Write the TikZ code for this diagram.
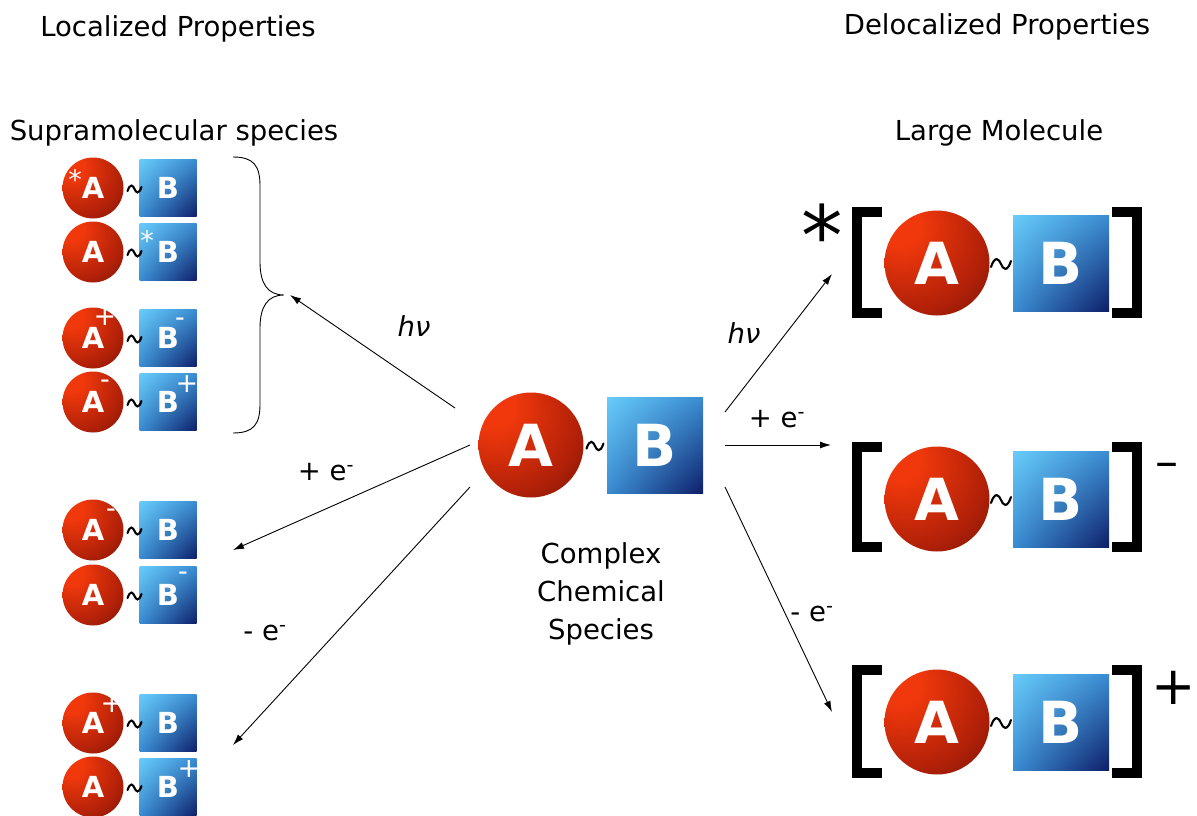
\documentclass[tikz,border=0pt]{standalone}
\usepackage{fontspec}
\setmainfont{DejaVu Sans}
\usetikzlibrary{arrows.meta,shadings}
\definecolor{ballhi}{RGB}{240,56,12}
\definecolor{ballmid}{RGB}{176,32,8}
\definecolor{balldark}{RGB}{84,14,4}
\definecolor{boxhi}{RGB}{104,204,250}
\definecolor{boxmid}{RGB}{58,140,210}
\definecolor{boxdark}{RGB}{14,30,105}
\pgfdeclareradialshading{redball}{\pgfpoint{-20bp}{20bp}}{color(0bp)=(ballhi); color(10bp)=(ballhi); color(36bp)=(ballmid); color(60bp)=(balldark); color(100bp)=(balldark)}
\tikzset{
  lbl/.style={inner sep=0, font=\fontsize{27.5}{33}\selectfont},
  ballS/.style={circle, inner sep=0, minimum size=61pt, shade, shading=redball, text=white, font=\bfseries\fontsize{29}{29}\selectfont},
  boxS/.style={rectangle, inner sep=0, minimum size=57pt, shade, upper left=boxhi, upper right=boxmid, lower left=boxmid, lower right=boxdark, text=white, font=\bfseries\fontsize{29}{29}\selectfont},
  ballL/.style={circle, inner sep=0, minimum size=105pt, shade, shading=redball, text=white, font=\bfseries\fontsize{58}{58}\selectfont},
  boxL/.style={rectangle, inner sep=0, minimum size=96pt, shade, upper left=boxhi, upper right=boxmid, lower left=boxmid, lower right=boxdark, text=white, font=\bfseries\fontsize{58}{58}\selectfont},
  wsign/.style={inner sep=0, text=white, font=\fontsize{27}{27}\selectfont},
  bsign/.style={inner sep=0, text=black},
  tildepath/.style={line width=2.1pt, line cap=round},
  bracket/.style={line width=10pt, miter limit=10},
  conn/.style={-{Latex[length=11pt,width=7pt]}, line width=0.9pt},
}
\newcommand\molS[2]{%
  \node[ballS] (#1a) at (93,#2) {A};
  \node[boxS] (#1b) at (168,#2) {B};
  \draw[tildepath, shift={(134.5,#2+1)}, scale=7] (-1,0.3) .. controls (-0.6,-0.9) and (-0.2,-0.5) .. (0,0) .. controls (0.2,0.5) and (0.6,0.9) .. (1,-0.3);
}
\newcommand\molL[4]{%
  \node[ballL] (#1a) at (#2,#3) {A};
  \node[boxL] (#1b) at (#2+124,#3) {B};
  \draw[tildepath, shift={(#2+64,#3+1)}, scale=#4] (-1,0.3) .. controls (-0.6,-0.9) and (-0.2,-0.5) .. (0,0) .. controls (0.2,0.5) and (0.6,0.9) .. (1,-0.3);
}
\newcommand\brk[2]{%
  \draw[bracket] (882,#1) -- (857,#1) -- (857,#2) -- (882,#2);
  \draw[bracket] (1112,#1) -- (1137,#1) -- (1137,#2) -- (1112,#2);
}
\begin{document}
\begin{tikzpicture}[x=1pt,y=-1pt]
\useasboundingbox[fill=white] (0,0) rectangle (1197,816);

% headers
\node[lbl, anchor=base] (hloc) at (178,37) {Localized Properties};
\node[lbl, anchor=base] (hdeloc) at (997,35) {Delocalized Properties};
\node[lbl, anchor=base] (hsupra) at (174,140) {Supramolecular species};
\node[lbl, anchor=base] (hlarge) at (999,140) {Large Molecule};

% left small molecules
\molS{r1}{188}
\molS{r2}{252}
\molS{r3}{338}
\molS{r4}{402}
\molS{r5}{530}
\molS{r6}{595}
\molS{r7}{723}
\molS{r8}{787}
\node[wsign] (s1) at (75,179) {*};
\node[wsign] (s2) at (147,240) {*};
\node[wsign] (s3a) at (105,317) {+};
\node[wsign] (s3b) at (180,322) {-};
\node[wsign] (s4a) at (105,384) {-};
\node[wsign] (s4b) at (187,384) {+};
\node[wsign] (s5) at (111,513) {-};
\node[wsign] (s6) at (183,576) {-};
\node[wsign] (s7) at (112,704) {+};
\node[wsign] (s8) at (189,769) {+};

% brace
\draw[line width=0.9pt] (233,157) .. controls (254,157) and (260,166) .. (260,186) -- (260,262) .. controls (260,284) and (268,295) .. (284,295)
  .. controls (268,295) and (260,306) .. (260,328) -- (260,404) .. controls (260,424) and (254,433) .. (233,433);
\coordinate (bracetip) at (290,295);

% centre molecule
\molL{c}{531}{445}{8.5}
\node[lbl, font=\fontsize{27.5}{38}\selectfont, align=center] (cname) at (601,594) {Complex\\Chemical\\Species};

% right large molecules
\node[bsign, font=\fontsize{83}{83}\selectfont] (star) at (822,235) {*};
\brk{212}{313}
\molL{m1}{937}{263}{10}
\brk{447}{547}
\molL{m2}{937}{499}{10}
\node[bsign, font=\fontsize{46}{46}\selectfont] (minus) at (1167,470) {–};
\brk{670}{773}
\molL{m3}{937}{722}{10}
\node[bsign, font=\fontsize{53}{53}\selectfont] (plus) at (1174,688) {+};

% arrows
\coordinate (l1s) at (455,408);
\coordinate (l2s) at (470,445);
\coordinate (l2e) at (233,550);
\coordinate (l3s) at (470,487);
\coordinate (l3e) at (233,745);
\coordinate (r1s) at (725,412);
\coordinate (r1e) at (832,274);
\coordinate (r2s) at (725,445);
\coordinate (r2e) at (831,445);
\coordinate (r3s) at (725,487);
\coordinate (r3e) at (832,712);
\draw[conn] (l1s) -- (bracetip);
\draw[conn] (l2s) -- (l2e);
\draw[conn] (l3s) -- (l3e);
\draw[conn] (r1s) -- (r1e);
\draw[conn] (r2s) -- (r2e);
\draw[conn] (r3s) -- (r3e);

% arrow labels
\node[lbl] (hv1) at (414,326) {\itshape hν};
\node[lbl] (hv2) at (744,333) {\itshape hν};
\node[lbl] (pe1) at (326,472) {+ e\textsuperscript{-}};
\node[lbl] (pe2) at (777,419) {+ e\textsuperscript{-}};
\node[lbl] (me1) at (265,633) {- e\textsuperscript{-}};
\node[lbl] (me2) at (812,614) {- e\textsuperscript{-}};
\end{tikzpicture}
\end{document}
